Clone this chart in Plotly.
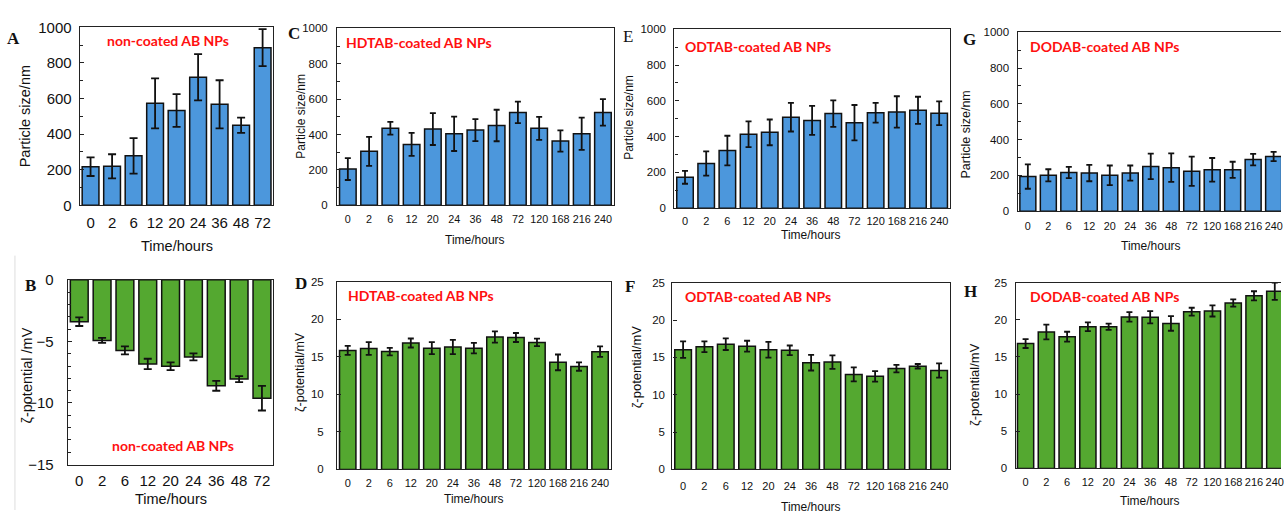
import plotly.graph_objects as go

# ---------------- data ----------------
times9 = ["0", "2", "6", "12", "20", "24", "36", "48", "72"]
times13 = ["0", "2", "6", "12", "20", "24", "36", "48", "72", "120", "168", "216", "240"]

A_size = [217, 219, 278, 573, 533, 720, 568, 450, 886]
A_err = [52, 68, 100, 140, 92, 130, 135, 43, 104]

B_zeta = [-3.4, -4.92, -5.73, -6.83, -7.02, -6.26, -8.61, -8.06, -9.61]
B_err = [0.35, 0.2, 0.33, 0.42, 0.32, 0.28, 0.4, 0.24, 1.0]

C_size = [205, 305, 435, 344, 431, 404, 425, 451, 525, 435, 364, 404, 525]
C_err = [62, 82, 36, 65, 90, 97, 62, 89, 61, 65, 60, 91, 75]

D_zeta = [15.85, 16.1, 15.7, 16.84, 16.15, 16.3, 16.15, 17.65, 17.57, 16.92, 14.26, 13.7, 15.68]
D_err = [0.6, 0.85, 0.5, 0.6, 0.8, 0.95, 0.7, 0.75, 0.6, 0.5, 1.05, 0.56, 0.7]

E_size = [173, 250, 322, 414, 424, 509, 491, 529, 478, 534, 538, 547, 531]
E_err = [36, 68, 83, 72, 72, 80, 81, 74, 99, 55, 88, 76, 66]

F_zeta = [16.03, 16.42, 16.77, 16.5, 16.03, 15.94, 14.29, 14.37, 12.72, 12.46, 13.5, 13.81, 13.24]
F_err = [1.1, 0.73, 0.78, 0.73, 1.05, 0.65, 1.05, 0.9, 0.93, 0.7, 0.5, 0.3, 0.95]

G_size = [193, 200, 216, 213, 200, 213, 250, 243, 223, 231, 231, 288, 305]
G_err = [68, 34, 31, 46, 55, 42, 71, 80, 82, 66, 45, 32, 26]

H_zeta = [16.81, 18.36, 17.74, 19.07, 19.07, 20.4, 20.35, 19.51, 21.1, 21.2, 22.26, 23.23, 23.85]
H_err = [0.6, 1.0, 0.66, 0.6, 0.42, 0.64, 0.82, 0.98, 0.53, 0.75, 0.49, 0.62, 1.17]

panel_letters = ["A", "B", "C", "D", "E", "F", "G", "H"]
panel_titles = ["non-coated AB NPs", "non-coated AB NPs", "HDTAB-coated AB NPs", "HDTAB-coated AB NPs",
                "ODTAB-coated AB NPs", "ODTAB-coated AB NPs", "DODAB-coated AB NPs", "DODAB-coated AB NPs"]
size_title = "Particle size/nm"
zeta_title_B = "ζ-potential /mV"
zeta_title = "ζ-potential/mV"
time_title = "Time/hours"

# ---------------- layout geometry (pixels) ----------------
W, H = 1284, 518
BLUE = "#4C97DC"
GREEN = "#54A830"
SANS = "Liberation Sans, Arial, sans-serif"
SERIF = "Liberation Serif, Times New Roman, serif"


def fx(px):
    return px / W


def fy(py):
    return 1 - py / H


panels = [
    dict(box=(80, 274, 19, 203), cats=times9, v=A_size, e=A_err, c=BLUE, yr=[0, 1000], dt=200, mn=100,
         xr=[-0.5, 8.5], tf=15, xs=4, ys=4, mir=True),
    dict(box=(68, 274, 280, 471), cats=times9, v=B_zeta, e=B_err, c=GREEN, yr=[-15, 0], dt=5, mn=1,
         xr=[-0.5, 8.5], tf=15, xs=2, ys=10, mir=True),
    dict(box=(338, 615, 20, 203), cats=times13, v=C_size, e=C_err, c=BLUE, yr=[0, 1000], dt=200, mn=100,
         xr=[-0.5, 12.5], tf=10.8, xs=4, ys=6, mir=True),
    dict(box=(338, 612, 282, 476), cats=times13, v=D_zeta, e=D_err, c=GREEN, yr=[0, 25], dt=5, mn=None,
         xr=[-0.5, 12.5], tf=11, xs=3, ys=10, mir=True),
    dict(box=(676, 952, 21, 206), cats=times13, v=E_size, e=E_err, c=BLUE, yr=[0, 1000], dt=200, mn=100,
         xr=[-0.5, 12.5], tf=11, xs=2, ys=5, mir=True),
    dict(box=(674, 952, 283, 476), cats=times13, v=F_zeta, e=F_err, c=GREEN, yr=[0, 25], dt=5, mn=None,
         xr=[-0.5, 12.5], tf=11, xs=6, ys=4, mir=True),
    dict(box=(1020, 1284, 24, 209), cats=times13, v=G_size, e=G_err, c=BLUE, yr=[0, 1000], dt=200, mn=100,
         xr=[-0.5, 12.36], tf=10.8, xs=5, ys=5, mir=False),
    dict(box=(1018, 1284, 283, 475), cats=times13, v=H_zeta, e=H_err, c=GREEN, yr=[0, 25], dt=5, mn=None,
         xr=[-0.48, 12.3], tf=11, xs=3, ys=5, mir=False),
]

fig = go.Figure()
layout = {}
for i, p in enumerate(panels, start=1):
    x0, x1, y0, y1 = p["box"]
    xd = [fx(x0), min(fx(x1), 1.0)]
    yd = [fy(y1), fy(y0)]
    xa = "x" if i == 1 else f"x{i}"
    ya = "y" if i == 1 else f"y{i}"
    fig.add_trace(go.Bar(
        x=p["cats"], y=p["v"], xaxis=xa, yaxis=ya,
        marker=dict(color=p["c"], line=dict(color="#111111", width=1.5)),
        error_y=dict(type="data", array=p["e"], visible=True, color="#111111", thickness=1.8,
                     width=3 if i > 2 else 4),
        showlegend=False, hoverinfo="skip",
    ))
    xkey = "xaxis" if i == 1 else f"xaxis{i}"
    ykey = "yaxis" if i == 1 else f"yaxis{i}"
    layout[xkey] = dict(
        domain=xd, anchor=ya, type="category", range=p["xr"],
        showline=True, mirror=True, linecolor="#222222", linewidth=1.3,
        ticks="", showgrid=False, zeroline=False, tickangle=0,
        tickfont=dict(family=SANS, size=p["tf"], color="#111111"),
        ticklabelstandoff=p["xs"], fixedrange=True,
    )
    ydict = dict(
        domain=yd, anchor=xa, range=p["yr"], dtick=p["dt"], tick0=0,
        showline=True, mirror=p["mir"], linecolor="#222222", linewidth=1.3,
        ticks="inside", ticklen=4, tickcolor="#222222", tickwidth=1,
        showgrid=False, zeroline=False,
        tickfont=dict(family=SANS, size=p["tf"] if i <= 2 else 11.5, color="#111111"),
        ticklabelstandoff=p["ys"], fixedrange=True,
    )
    if p["mn"] is not None:
        ydict["minor"] = dict(dtick=p["mn"], ticks="inside", ticklen=3, tickcolor="#222222", showgrid=False)
    layout[ykey] = ydict

ann = []


def px_ann(x, y, text, size, family=SANS, color="#111111", bold=False, angle=0, xanchor="center"):
    t = f"<b>{text}</b>" if bold else text
    ann.append(dict(x=fx(x), y=fy(y), xref="paper", yref="paper", text=t, showarrow=False,
                    font=dict(family=family, size=size, color=color), textangle=angle,
                    xanchor=xanchor, yanchor="middle"))


# panel letters
letter_pos = [(14, 30, True), (31, 286, True), (295, 25, True), (302, 284, True),
              (629, 28, False), (631, 287, True), (972, 32, True), (973, 292, True)]
for L, (lx, ly, b) in zip(panel_letters, letter_pos):
    px_ann(lx, ly, L, 17, family=SERIF, bold=b)

# red in-plot titles (left-anchored)
title_pos = [(105, 33), (110, 451), (345, 35), (347, 296), (685, 39), (685, 297), (1030, 39), (1030, 297)]
for t, (tx, ty) in zip(panel_titles, title_pos):
    px_ann(tx, ty, t, 14, family="Lato, Open Sans, sans-serif", color="#FF1010", bold=True, xanchor="left")

# x axis titles
xt = [(177, 245, 14.5), (171, 507, 14.5), (476, 239, 12), (475, 507, 12),
      (813, 234, 12), (813, 515, 12), (1154, 245, 12), (1153, 509, 12)]
for (x, y, s) in xt:
    px_ann(x, y, time_title, s)

# y axis titles
yt = [(25, 111, 14.5, size_title), (27, 379, 14.5, zeta_title_B), (302, 111, 12, size_title),
      (300, 375, 12.5, zeta_title), (631, 112, 12, size_title), (638, 370, 13, zeta_title),
      (968, 130, 12.5, size_title), (977, 388, 13, zeta_title)]
for (x, y, s, t) in yt:
    px_ann(x, y, t, s, angle=-90)

shapes = [dict(type="line", xref="paper", yref="paper", x0=fx(15), x1=fx(15), y0=0, y1=fy(255),
               line=dict(color="#DDDDDD", width=1))]

fig.update_layout(
    width=W, height=H, margin=dict(l=0, r=0, t=0, b=0),
    paper_bgcolor="white", plot_bgcolor="white",
    bargap=0.22, showlegend=False, annotations=ann, shapes=shapes, **layout,
)

fig.write_html("out.html", config={"displayModeBar": False},
               post_script="document.body.style.margin='0px';document.body.style.overflow='hidden';")
